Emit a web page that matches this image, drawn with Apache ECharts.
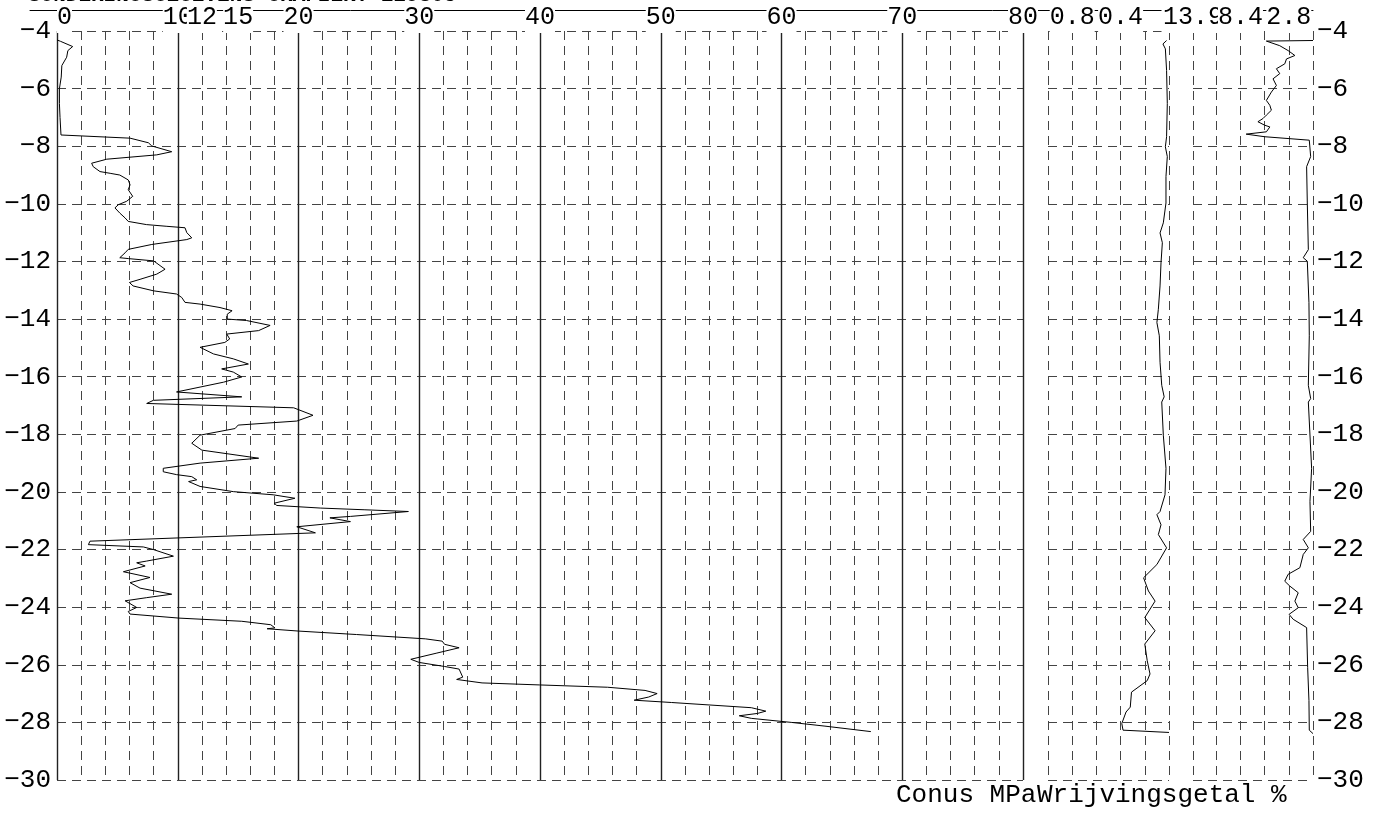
<!DOCTYPE html>
<html><head><meta charset="utf-8">
<script src="https://cdn.jsdelivr.net/npm/echarts@6/dist/echarts.min.js"></script>
<style>html,body{margin:0;padding:0;background:#fff}#c{width:1382px;height:815px}</style>
</head><body><div id="c"></div>
<script>
// Conus (qc, MPa) versus depth (m)
const qcDepth = [-4.31,-4.36,-4.54,-4.68,-4.91,-5.2,-5.6,-6.0,-6.52,-7.0,-7.61,-7.67,-7.72,-7.88,-7.99,-8.19,-8.30,-8.45,-8.59,-8.71,-8.88,-8.94,-9.0,-9.17,-9.34,-9.51,-9.74,-9.91,-10.03,-10.14,-10.32,-10.49,-10.61,-10.72,-10.78,-10.83,-11.0,-11.18,-11.24,-11.41,-11.58,-11.70,-11.87,-11.9,-11.98,-12.27,-12.44,-12.62,-12.73,-12.85,-13.02,-13.13,-13.25,-13.42,-13.48,-13.6,-13.71,-13.83,-14.0,-14.05,-14.22,-14.4,-14.52,-14.69,-14.81,-14.98,-15.04,-15.21,-15.38,-15.56,-15.73,-15.84,-16.01,-16.19,-16.36,-16.53,-16.70,-16.82,-16.93,-17.08,-17.34,-17.54,-17.68,-17.80,-18.03,-18.31,-18.55,-18.83,-19.0,-19.18,-19.3,-19.4,-19.47,-19.58,-19.64,-19.81,-19.99,-20.1,-20.22,-20.39,-20.47,-20.56,-20.62,-20.68,-20.85,-20.9,-21.03,-21.21,-21.42,-21.71,-21.83,-21.91,-22.0,-22.23,-22.40,-22.46,-22.57,-22.77,-22.97,-23.15,-23.34,-23.55,-23.67,-23.78,-24.01,-24.15,-24.24,-24.38,-24.49,-24.61,-24.72,-24.75,-24.83,-24.95,-25.1,-25.18,-25.29,-25.41,-25.6,-25.81,-25.92,-26.06,-26.15,-26.43,-26.51,-26.63,-26.7,-26.78,-26.89,-27.0,-27.12,-27.23,-27.31,-27.49,-27.61,-27.69,-27.77,-27.86,-28.0,-28.13,-28.32];
const qcValue = [0.0,0.3,1.3,0.9,0.8,0.4,0.35,0.2,0.2,0.25,0.33,0.33,6.05,7.57,7.85,9.5,8.26,4.12,2.87,3.0,3.56,4.4,5.2,5.9,6.05,5.9,6.27,5.77,5.08,4.8,5.2,5.64,5.9,7.4,9.1,10.6,10.75,11.16,10.75,7.85,5.9,5.64,5.2,5.9,8.0,8.95,8.26,6.88,6.0,6.3,8.0,9.9,10.33,10.6,11.85,13.5,14.5,14.1,14.1,15.7,17.65,16.7,14.06,14.3,13.9,11.85,11.85,12.96,14.6,15.85,13.64,14.6,15.3,13.8,11.85,9.9,15.3,7.98,7.43,19.6,21.2,19.86,15.0,14.75,11.85,11.16,12.0,16.7,11.85,8.8,8.8,9.9,11.16,11.57,10.9,11.85,14.6,17.9,19.7,18.0,18.2,21.8,25.5,29.1,24.3,22.6,24.3,19.86,21.4,2.73,2.6,7.15,7.98,9.64,7.43,6.6,7.3,5.5,7.7,6.05,6.88,9.5,7.43,5.64,6.6,5.9,6.05,10.1,15.3,17.7,18.05,17.4,20.0,24.8,30.5,31.9,32.1,33.3,31.4,29.3,30.0,32.1,33.3,33.6,33.1,35.2,39.95,45.6,48.7,49.7,49.0,47.8,50.9,57.5,58.7,58.0,56.5,57.5,60.8,63.6,67.4];
// Sleeve friction (MPa) versus depth
const fsDepth = [-4.33,-4.45,-4.62,-5.37,-6.52,-7.67,-8.02,-8.36,-9.05,-9.97,-10.66,-11.01,-11.35,-12.05,-12.85,-13.66,-14.12,-14.58,-15.5,-16.3,-16.7,-16.88,-18.03,-19.18,-20.1,-20.68,-20.79,-21.14,-21.48,-21.94,-22.52,-22.98,-23.44,-23.79,-24.36,-24.82,-25.28,-25.86,-26.32,-26.55,-26.95,-27.47,-27.64,-28.04,-28.27,-28.35];
const fsValue = [0.02,0.05,0.03,0.02,0.014,0.02,0.03,0.014,0.025,0.025,0.047,0.074,0.055,0.066,0.074,0.088,0.1,0.08,0.074,0.06,0.04,0.06,0.047,0.025,0.033,0.074,0.1,0.066,0.088,0.02,0.1,0.21,0.17,0.115,0.2,0.115,0.2,0.18,0.157,0.18,0.31,0.32,0.355,0.39,0.38,0.0];
// Friction ratio (%) versus depth
const rfDepth = [-4.33,-4.35,-4.51,-4.68,-4.85,-4.97,-5.14,-5.31,-5.48,-5.66,-5.89,-6.12,-6.41,-6.58,-6.75,-6.92,-7.04,-7.15,-7.27,-7.33,-7.5,-7.58,-7.67,-7.79,-8.36,-8.71,-9.97,-11.59,-11.87,-11.99,-13.43,-14.58,-16.3,-16.76,-16.88,-19.18,-20.33,-21.37,-21.65,-21.94,-22.17,-22.63,-22.86,-23.1,-23.27,-23.5,-23.79,-24.02,-24.25,-24.42,-24.71,-26.09,-27.24,-28.27,-28.39];
const rfValue = [0.0,5.4,3.85,2.88,2.1,3.07,3.27,4.24,3.85,4.63,4.24,4.82,5.4,5.0,4.82,5.4,5.8,6.38,5.6,5.0,5.4,7.74,5.6,0.43,0.27,0.74,0.66,0.54,1.13,0.66,0.47,0.43,0.54,0.27,0.54,0.16,0.35,0.27,1.13,0.54,1.13,1.52,2.88,3.27,2.68,1.71,2.1,1.71,2.77,2.3,0.74,0.62,0.47,0.43,0.0];

// Axis ranges and tick labels
const depthRange = {min: -30, max: -4, step: 2};
const qcRange = {min: 0, max: 80, step: 10};
const fsRange = {min: 0, max: 1.0, step: 0.2};
const rfRange = {min: 0, max: 13.9, step: 2.8};
const qcLabels = [0, 10, 12, 15, 20, 30, 40, 50, 60, 70, 80];
const fsLabels = [0.8, 0.4, 0];
const rfLabels = [13.9, 8.4, 2.8];

const MONO = '"Liberation Mono", "DejaVu Sans Mono", monospace';
const zip = (a, b) => a.map((d, i) => [b[i], d]);
const dash = {color: '#444', type: [9, 6], width: 1};
const minus = v => String(v).replace('-', '\u2212');
const has = (list, v) => list.some(x => Math.abs(x - v) < 1e-6);

function yAx(grid, pos, show, margin) {
  return {
    type: 'value', gridIndex: grid, min: depthRange.min, max: depthRange.max, interval: depthRange.step,
    position: pos, axisLine: {show: false}, axisTick: {show: false},
    axisLabel: {show: show, fontFamily: MONO, fontSize: 26, color: '#000', margin: margin, formatter: minus},
    splitLine: {show: true, lineStyle: dash}
  };
}
// labels sit on a white box over the rule line; sign flag lets right panels list labels left to right
function topLabels(list, sign) {
  return {
    margin: -2,
    formatter: v => has(list, sign * v) ? '{a|' + String(+(sign * v).toFixed(2)) + '}' : '',
    rich: {a: {fontFamily: MONO, fontSize: 25, color: '#000', backgroundColor: '#fff', padding: [5, 0, 3, 0]}}
  };
}
function labelAxis(grid, range, list, z) {
  // reversed panels: label positions laid out left-to-right (value shown is the panel value)
  return {type: 'value', gridIndex: grid, position: 'top', min: -range.max, max: -range.min, interval: 0.1, z: z,
    axisLine: {show: false}, axisTick: {show: false}, splitLine: {show: false},
    axisLabel: topLabels(list, -1)};
}

const option = {
  animation: false,
  backgroundColor: '#fff',
  title: [
    {text: 'SONDERINGSGEGEVENS GRAFIEK: 129805', left: 28, top: -15, padding: 0,
     textStyle: {fontFamily: MONO, fontWeight: 'bold', fontSize: 21, color: '#000'}},
    {text: 'Conus MPa', left: 896, top: 782, padding: 0, textStyle: {fontFamily: MONO, fontWeight: 'normal', fontSize: 26, color: '#000'}},
    {text: 'Wrijvingsgetal %', left: 1037, top: 782, padding: 0, textStyle: {fontFamily: MONO, fontWeight: 'normal', fontSize: 26, color: '#000'}}
  ],
  grid: [
    {left: 57, top: 27, width: 966, height: 753},
    {left: 1048, top: 27, width: 121, height: 753},
    {left: 1193, top: 27, width: 120, height: 753},
    {left: 30, top: 9, width: 1283, height: 1}
  ],
  xAxis: [
    // main qc axis: solid lines every 10, dashed every 2
    {type: 'value', gridIndex: 0, position: 'top', min: qcRange.min, max: qcRange.max, interval: qcRange.step, z: 2,
     axisLine: {show: false}, axisTick: {show: false}, axisLabel: {show: false},
     splitLine: {show: true, lineStyle: {color: '#222', width: 1.4}},
     minorTick: {show: false, splitNumber: 5}, minorSplitLine: {show: true, lineStyle: dash}},
    // friction (reversed)
    {type: 'value', gridIndex: 1, position: 'top', inverse: true, min: fsRange.min, max: fsRange.max, interval: fsRange.step, z: 2,
     axisLine: {show: false}, axisTick: {show: false}, axisLabel: {show: false},
     splitLine: {show: true, lineStyle: dash}},
    // friction ratio (reversed)
    {type: 'value', gridIndex: 2, position: 'top', inverse: true, min: rfRange.min, max: rfRange.max, interval: rfRange.step, z: 2,
     axisLine: {show: false}, axisTick: {show: false}, axisLabel: {show: false},
     splitLine: {show: true, lineStyle: dash}},
    // top rule line
    {type: 'value', gridIndex: 3, position: 'top', min: 0, max: 1, z: 1,
     axisLine: {show: true, lineStyle: {color: '#000', width: 1}}, axisTick: {show: false},
     axisLabel: {show: false}, splitLine: {show: false}},
    // tick labels
    {type: 'value', gridIndex: 0, position: 'top', min: qcRange.min, max: qcRange.max, interval: 1, z: 5,
     axisLine: {show: false}, axisTick: {show: false}, splitLine: {show: false},
     axisLabel: Object.assign(topLabels(qcLabels, 1), {alignMinLabel: 'left'})},
    labelAxis(1, fsRange, fsLabels, 6),
    labelAxis(2, rfRange, rfLabels, 7)
  ],
  yAxis: [yAx(0, 'left', true, 6), yAx(1, 'left', false, 4), yAx(2, 'right', true, 4),
    {type: 'value', gridIndex: 3, show: false, min: 0, max: 1}],
  series: [
    {type: 'line', xAxisIndex: 0, yAxisIndex: 0, data: zip(qcDepth, qcValue), showSymbol: false, symbol: 'none',
     lineStyle: {color: '#000', width: 1}, z: 3},
    {type: 'line', xAxisIndex: 1, yAxisIndex: 1, data: zip(fsDepth, fsValue), showSymbol: false, symbol: 'none',
     lineStyle: {color: '#000', width: 1}, z: 3},
    {type: 'line', xAxisIndex: 2, yAxisIndex: 2, data: zip(rfDepth, rfValue), showSymbol: false, symbol: 'none',
     lineStyle: {color: '#000', width: 1}, z: 3}
  ]
};
const chart = echarts.init(document.getElementById('c'), null, {renderer: 'canvas'});
chart.setOption(option);
</script>
</body></html>
